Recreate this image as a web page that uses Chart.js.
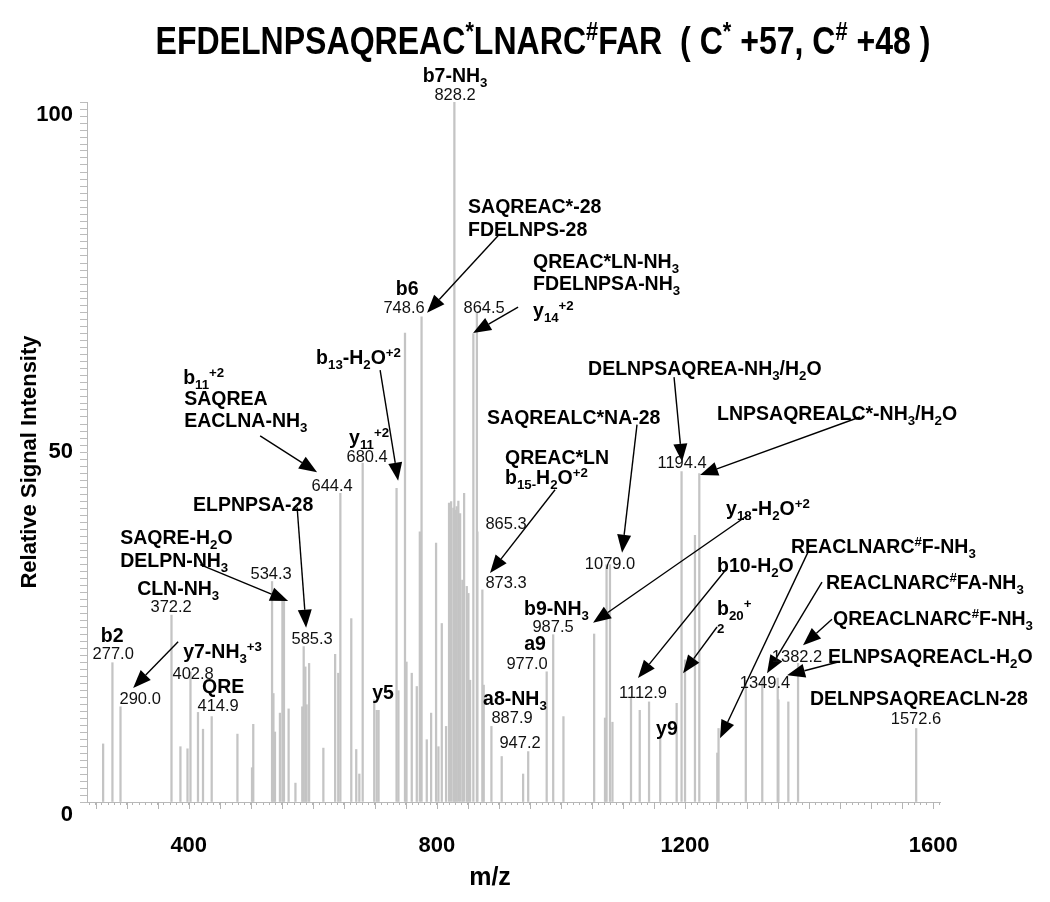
<!DOCTYPE html>
<html><head><meta charset="utf-8">
<script src="https://cdn.jsdelivr.net/npm/chart.js@4.4.1/dist/chart.umd.min.js"></script>
<style>html,body{margin:0;padding:0;background:#fff;}#wrap{width:1050px;height:902px;}</style>
</head><body><div id="wrap"><canvas id="c" width="1050" height="902"></canvas></div>
<script>
// ---- data ----
const peakMz = [262, 277.0, 290.0, 372.2, 386.6, 398, 402.8, 414.9, 423, 437, 478.5, 502, 504,
  534.3, 536.5, 539, 547, 551, 553.5, 561, 572, 583, 585.3, 588, 590, 594, 617, 636, 641, 644.4,
  662, 670, 675, 680.4, 699, 703, 706, 735, 738, 748.6, 751, 759.5, 767.6, 772.5, 775.3,
  783.7, 790.7, 798.7, 802.5, 807.9, 814.8, 819.6, 822.9, 826.6, 828.2, 829.8, 832, 834.6, 837.4,
  841.1, 843.9, 848.2, 850.8, 853.5, 858.8, 864.5, 865.3, 873.3, 875.5, 887.9, 904.5, 939, 947.2,
  977.0, 987.5, 1004, 1053.5, 1071, 1073.5, 1079.0, 1083, 1112.9, 1127, 1142, 1160, 1186.5,
  1194.4, 1200, 1216, 1223, 1252, 1254, 1298, 1324.5, 1349.4, 1350.5, 1366.5, 1382.2, 1572.6];
const peakIntensity = [8.3, 19.9, 13.6, 26.7, 7.9, 7.6, 18.6, 12.8, 10.4, 12.2, 9.7, 4.9, 11.1,
  31.5, 15.5, 10, 12.7, 28.9, 28.9, 13.3, 2.7, 13.6, 22.2, 19.3, 13.9, 19.8, 7.7, 21.1, 18.4, 44.1,
  26.2, 7.5, 4, 48.4, 14.6, 13.1, 13.1, 44.8, 15.9, 67, 20, 18.4, 16.5, 38.6, 69.3,
  8.9, 12.7, 37, 7.9, 25.5, 10.8, 42.7, 42.9, 42, 100, 41.7, 42.2, 43, 41.2,
  31.7, 44.1, 30.8, 29.8, 17.4, 66.9, 69.9, 38.6, 30.3, 16.7, 10.8, 6.5, 4, 7.2,
  18.6, 23.9, 12.2, 24, 12, 33.9, 33.9, 11.4, 14.8, 13.1, 14.3, 9.3, 14.1,
  47.2, 20.3, 38.1, 46.9, 7, 10.5, 17.4, 17.7, 17.7, 14.6, 14.3, 19.8, 10.5];
const xTickLabels = [400, 800, 1200, 1600];
const yTickLabels = [0, 50, 100];
const chartTitle = 'EFDELNPSAQREAC^{*}LNARC^{#}FAR  ( C^{*} +57, C^{#} +48 )';
const xAxisTitle = 'm/z';
const yAxisTitle = 'Relative Signal Intensity';

// ion labels (bold): text, m/z anchor, intensity anchor, align
const ionLabels = [
  ['b7-NH_{3}', 829.3, 103.9, 'center'],
  ['SAQREAC*-28', 850.3, 85.1, 'left'],
  ['FDELNPS-28', 850.3, 81.9, 'left'],
  ['QREAC*LN-NH_{3}', 955.0, 77.3, 'left'],
  ['FDELNPSA-NH_{3}', 955.0, 74.1, 'left'],
  ['y_{14}^{+2}', 955.0, 70.3, 'left'],
  ['b6', 752.0, 73.4, 'center'],
  ['b_{11}^{+2}', 391.0, 60.7, 'left'],
  ['SAQREA', 392.6, 57.7, 'left'],
  ['EACLNA-NH_{3}', 392.6, 54.6, 'left'],
  ['b_{13}-H_{2}O^{+2}', 605.3, 63.6, 'left'],
  ['y_{11}^{+2}', 658.5, 52.1, 'left'],
  ['ELPNPSA-28', 503.8, 42.6, 'center'],
  ['SAQRE-H_{2}O', 289.4, 37.9, 'left'],
  ['DELPN-NH_{3}', 289.4, 34.6, 'left'],
  ['CLN-NH_{3}', 316.8, 30.6, 'left'],
  ['b2', 276.5, 23.9, 'center'],
  ['y7-NH_{3}^{+3}', 391.0, 21.6, 'left'],
  ['QRE', 455.4, 16.6, 'center'],
  ['SAQREALC*NA-28', 880.9, 55.0, 'left'],
  ['QREAC*LN', 909.9, 49.3, 'left'],
  ['b_{15-}H_{2}O^{+2}', 909.9, 46.4, 'left'],
  ['b9-NH_{3}', 940.5, 27.7, 'left'],
  ['a9', 958.2, 22.7, 'center'],
  ['y5', 713.3, 15.7, 'center'],
  ['a8-NH_{3}', 874.5, 14.9, 'left'],
  ['DELNPSAQREA-NH_{3}/H_{2}O', 1043.7, 62.0, 'left'],
  ['LNPSAQREALC*-NH_{3}/H_{2}O', 1251.6, 55.6, 'left'],
  ['y_{18}-H_{2}O^{+2}', 1266.1, 42.0, 'left'],
  ['b10-H_{2}O', 1251.6, 33.9, 'left'],
  ['b_{20}^{+}', 1251.6, 27.7, 'left'],
  ['_{2}', 1251.6, 25.8, 'left'],
  ['y9', 1153.3, 10.6, 'left'],
  ['REACLNARC^{#}F-NH_{3}', 1370.8, 36.6, 'left'],
  ['REACLNARC^{#}FA-NH_{3}', 1427.2, 31.4, 'left'],
  ['QREACLNARC^{#}F-NH_{3}', 1438.5, 26.3, 'left'],
  ['ELNPSAQREACL-H_{2}O', 1430.5, 20.9, 'left'],
  ['DELNPSAQREACLN-28', 1401.4, 14.9, 'left']
];
// peak m/z value labels: text, m/z anchor, intensity anchor
const mzLabels = [
  ['828.2', 829.3, 101.1], ['748.6', 747.1, 70.7], ['864.5', 876.1, 70.7], ['680.4', 687.5, 49.4],
  ['644.4', 631.1, 45.3], ['534.3', 532.8, 32.7], ['372.2', 371.6, 28.0], ['585.3', 598.9, 23.4],
  ['277.0', 278.2, 21.3], ['290.0', 321.7, 14.9], ['402.8', 407.1, 18.4], ['414.9', 447.4, 13.9],
  ['865.3', 911.5, 39.9], ['873.3', 911.5, 31.4], ['987.5', 987.3, 25.1], ['977.0', 945.4, 19.9],
  ['887.9', 921.2, 12.1], ['947.2', 934.1, 8.6], ['1079.0', 1079.1, 34.1], ['1112.9', 1132.3, 15.7],
  ['1194.4', 1195.2, 48.6], ['1382.2', 1380.5, 20.9], ['1349.4', 1328.9, 17.1], ['1572.6', 1572.3, 12.0]
];
// arrows: from (m/z, intensity) to (m/z, intensity)
const arrows = [
  [898.6, 80.9, 784.2, 69.9], [930.9, 70.7, 858.3, 67.0], [515.1, 52.3, 606.9, 47.1],
  [708.5, 61.7, 737.5, 45.9], [574.7, 42.1, 589.2, 24.9], [418.4, 33.9, 560.2, 28.7],
  [382.9, 22.9, 310.4, 16.3], [990.5, 44.6, 885.7, 32.7], [1122.6, 53.9, 1098.5, 35.6],
  [1301.5, 41.0, 1051.7, 25.6], [1182.3, 60.7, 1195.2, 48.6], [1482.0, 55.0, 1224.2, 46.7],
  [1267.7, 33.4, 1124.2, 17.7], [1251.6, 25.0, 1196.8, 18.4], [1398.2, 35.7, 1256.4, 9.1],
  [1420.8, 31.4, 1332.2, 18.4], [1436.9, 26.1, 1390.2, 22.4], [1446.6, 20.0, 1364.4, 18.1]
];

const FAM = "'Liberation Sans', Arial, Helvetica, sans-serif";

function parseRich(s) {
  const out = []; let buf = ''; let i = 0;
  while (i < s.length) {
    const c = s[i];
    if ((c === '_' || c === '^') && s[i + 1] === '{') {
      if (buf) { out.push({ t: buf, m: 0 }); buf = ''; }
      const e = s.indexOf('}', i);
      out.push({ t: s.slice(i + 2, e), m: c === '_' ? 1 : 2 });
      i = e + 1;
    } else { buf += c; i++; }
  }
  if (buf) out.push({ t: buf, m: 0 });
  return out;
}
function richWidth(ctx, segs, size, weight) {
  let w = 0;
  segs.forEach(g => { ctx.font = weight + ' ' + (g.m ? size * 0.68 : size) + 'px ' + FAM; g.w = ctx.measureText(g.t).width; w += g.w; });
  return w;
}
function drawRich(ctx, s, x, yc, size, weight, align) {
  const segs = parseRich(s);
  const w = richWidth(ctx, segs, size, weight);
  let cx = align === 'center' ? x - w / 2 : (align === 'right' ? x - w : x);
  const base = yc + size * 0.36;
  ctx.textAlign = 'left'; ctx.textBaseline = 'alphabetic';
  segs.forEach(g => {
    ctx.font = weight + ' ' + (g.m ? size * 0.68 : size) + 'px ' + FAM;
    const dy = g.m === 1 ? size * 0.26 : (g.m === 2 ? -size * 0.36 : 0);
    ctx.fillText(g.t, cx, base + dy);
    cx += g.w;
  });
}

const annotPlugin = {
  id: 'annot',
  afterDraw(chart) {
    const ctx = chart.ctx, xs = chart.scales.x, ys = chart.scales.y;
    ctx.save();
    // longer major ticks on the m/z axis
    ctx.strokeStyle = '#b4b4b4'; ctx.lineWidth = 1;
    for (const t of xs.ticks) {
      if (Math.round(t.value) % 50 === 0) {
        const px = Math.round(xs.getPixelForValue(t.value)) + 0.5;
        ctx.beginPath(); ctx.moveTo(px, ys.bottom); ctx.lineTo(px, ys.bottom + 7); ctx.stroke();
      }
    }
    ctx.fillStyle = '#000';
    // arrows
    ctx.strokeStyle = '#000'; ctx.lineWidth = 1.4;
    arrows.forEach(a => {
      const x1 = xs.getPixelForValue(a[0]), y1 = ys.getPixelForValue(a[1]);
      const x2 = xs.getPixelForValue(a[2]), y2 = ys.getPixelForValue(a[3]);
      const ang = Math.atan2(y2 - y1, x2 - x1), L = 18, H = 7;
      const bx = x2 - L * Math.cos(ang), by = y2 - L * Math.sin(ang);
      ctx.beginPath(); ctx.moveTo(x1, y1); ctx.lineTo(bx, by); ctx.stroke();
      ctx.beginPath(); ctx.moveTo(x2, y2);
      ctx.lineTo(bx + H * Math.sin(ang), by - H * Math.cos(ang));
      ctx.lineTo(bx - H * Math.sin(ang), by + H * Math.cos(ang));
      ctx.closePath(); ctx.fill();
    });
    // labels
    ionLabels.forEach(l => drawRich(ctx, l[0], xs.getPixelForValue(l[1]), ys.getPixelForValue(l[2]), 19.5, 'bold', l[3]));
    ctx.fillStyle = '#111';
    mzLabels.forEach(l => drawRich(ctx, l[0], xs.getPixelForValue(l[1]), ys.getPixelForValue(l[2]), 16.5, 'normal', 'center'));
    // title (condensed bold)
    ctx.fillStyle = '#000';
    const tsegs = parseRich(chartTitle);
    const tw = richWidth(ctx, tsegs, 38, 'bold');
    const sx = 775 / tw;
    ctx.save(); ctx.translate(543, 0); ctx.scale(sx, 1);
    drawRich(ctx, chartTitle, 0, 40, 38, 'bold', 'center');
    ctx.restore();
    // axis titles
    ctx.font = 'bold 25px ' + FAM; ctx.textAlign = 'center'; ctx.textBaseline = 'middle';
    ctx.fillText(xAxisTitle, 490, 878);
    ctx.save(); ctx.translate(30, 462); ctx.rotate(-Math.PI / 2);
    ctx.font = 'bold 22px ' + FAM; ctx.fillText(yAxisTitle, 0, 0);
    ctx.restore();
    ctx.restore();
  }
};

new Chart(document.getElementById('c').getContext('2d'), {
  type: 'bar',
  data: { datasets: [{
    data: peakMz.map((m, i) => ({ x: m, y: peakIntensity[i] })),
    backgroundColor: '#c4c4c4', borderWidth: 0, barThickness: 1.6
  }] },
  options: {
    responsive: false, animation: false, devicePixelRatio: 1,
    layout: { padding: { left: 0, right: 110, top: 102, bottom: 0 } },
    plugins: { legend: { display: false }, tooltip: { enabled: false }, title: { display: false } },
    scales: {
      x: {
        type: 'linear', min: 236, max: 1611, offset: false,
        grid: { drawOnChartArea: false, offset: false, tickLength: 3, tickColor: '#b4b4b4', color: '#b4b4b4' },
        border: { color: '#b8b8b8', width: 1 },
        ticks: { stepSize: 10, autoSkip: false, includeBounds: false, maxRotation: 0, minRotation: 0, padding: 28,
          color: '#000', font: { family: FAM, size: 22, weight: 'bold' },
          callback: v => xTickLabels.includes(Math.round(v)) ? String(Math.round(v)) : '' },
        afterFit: s => { s.height = 100; }
      },
      y: {
        min: 0, max: 100,
        grid: { drawOnChartArea: false, tickLength: 7, tickColor: '#bcbcbc', color: '#bcbcbc' },
        border: { color: '#b8b8b8', width: 1 },
        ticks: { stepSize: 1, autoSkip: false, includeBounds: false, padding: 7, maxTicksLimit: 1000,
          color: '#000', font: { family: FAM, size: 22, weight: 'bold' },
          callback: v => { const r = Math.round(v); if (!yTickLabels.includes(r)) return ''; return r === 50 ? '50' : ['', String(r)]; } },
        afterFit: s => { s.width = 87; }
      }
    }
  },
  plugins: [annotPlugin]
});
</script></body></html>
